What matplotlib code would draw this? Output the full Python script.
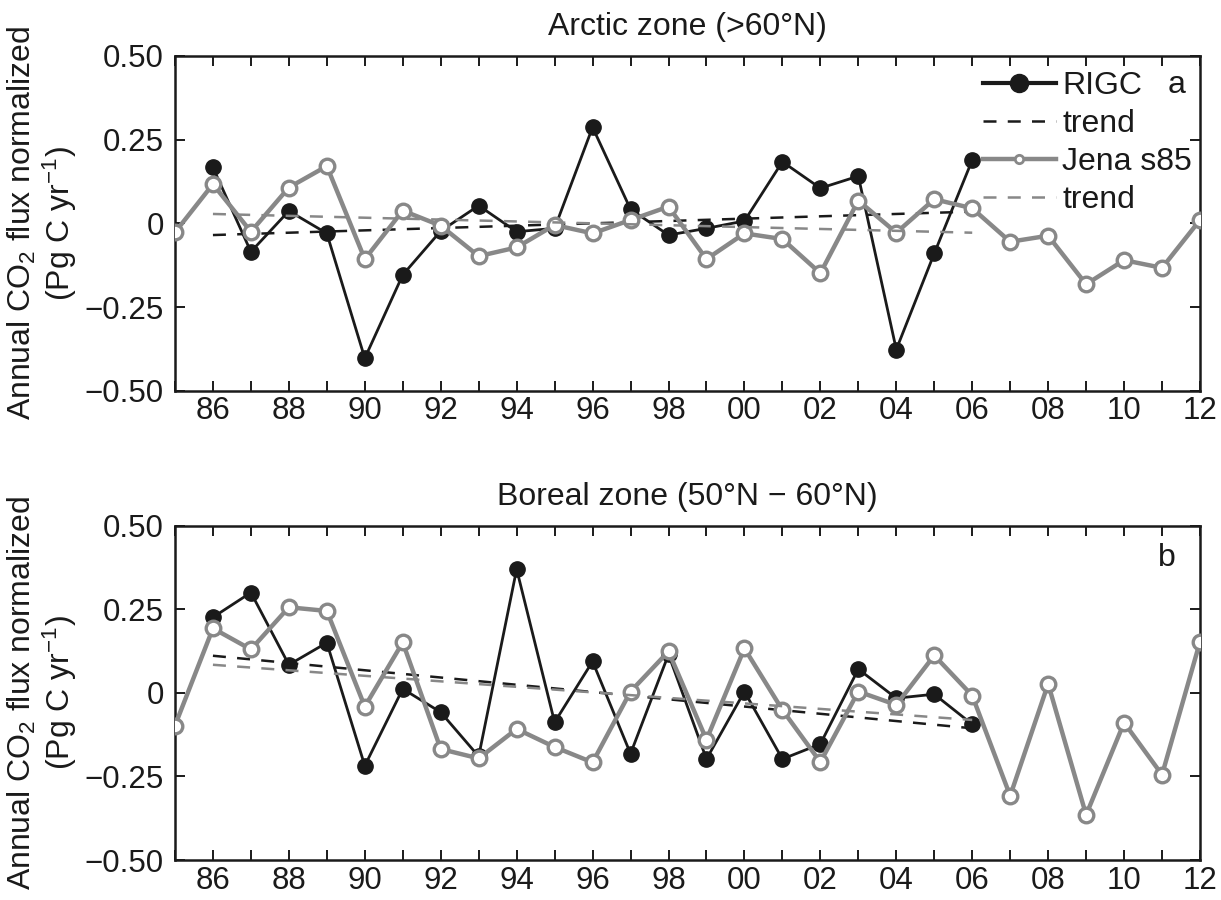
import numpy as np
import matplotlib
matplotlib.use("Agg")
import matplotlib.pyplot as plt

plt.rcParams['font.family'] = ['Liberation Sans', 'DejaVu Sans']
plt.rcParams['mathtext.default'] = 'regular'

# ---------------- data ----------------
years_rigc = list(range(1986, 2007))
years_jena = list(range(1985, 2013))

arctic_rigc = [0.167, -0.085, 0.037, -0.030, -0.403, -0.154, -0.023, 0.053, -0.025, -0.015,
               0.287, 0.042, -0.035, -0.015, 0.007, 0.184, 0.105, 0.141, -0.377, -0.090, 0.189]
arctic_jena = [-0.027, 0.117, -0.025, 0.107, 0.171, -0.107, 0.038, -0.007, -0.098, -0.072,
               -0.005, -0.030, 0.010, 0.050, -0.107, -0.030, -0.047, -0.149, 0.068, -0.028,
               0.072, 0.045, -0.055, -0.037, -0.182, -0.110, -0.133, 0.010]

boreal_rigc = [0.226, 0.300, 0.084, 0.150, -0.218, 0.012, -0.058, -0.190, 0.370, -0.088,
               0.094, -0.182, 0.115, -0.198, 0.004, -0.198, -0.153, 0.071, -0.016, -0.004, -0.094]
boreal_jena = [-0.098, 0.193, 0.130, 0.256, 0.245, -0.041, 0.151, -0.168, -0.196, -0.108,
               -0.162, -0.208, 0.004, 0.124, -0.140, 0.133, -0.051, -0.207, 0.004, -0.036,
               0.112, -0.008, -0.308, 0.027, -0.365, -0.089, -0.245, 0.153]

trend_years = [1986, 2006]
arctic_rigc_trend = [-0.035, 0.035]
arctic_jena_trend = [0.028, -0.028]
boreal_rigc_trend = [0.111, -0.106]
boreal_jena_trend = [0.084, -0.081]

titles = ["Arctic zone (>60°N)", "Boreal zone (50°N \u2212 60°N)"]
panel_letters = ["a", "b"]
ytick_vals = [-0.5, -0.25, 0, 0.25, 0.5]
ytick_labels = ["\u22120.50", "\u22120.25", "0", "0.25", "0.50"]
ylabel = "Annual CO$_2$ flux normalized\n(Pg C yr$^{-1}$)"

# ---------------- style ----------------
BLACK = "#1a1a1a"
GREY = "#888888"
FS = 23
TFS = 22.5

fig = plt.figure(figsize=(12.21, 9.0), dpi=100)
ax_top = fig.add_axes([0.1433, 0.5659, 0.8395, 0.3719])
ax_bot = fig.add_axes([0.1433, 0.0444, 0.8395, 0.3715])

panels = [
    (ax_top, arctic_rigc, arctic_jena, arctic_rigc_trend, arctic_jena_trend),
    (ax_bot, boreal_rigc, boreal_jena, boreal_rigc_trend, boreal_jena_trend),
]

for i, (ax, rigc, jena, rtr, jtr) in enumerate(panels):
    l1, = ax.plot(years_rigc, rigc, '-o', color=BLACK, lw=2.0, ms=11,
                  mfc=BLACK, mec=BLACK, label="RIGC", zorder=3)
    l2, = ax.plot(trend_years, rtr, '--', color=BLACK, lw=1.8, dashes=(5.2, 4.5),
                  label="trend", zorder=4)
    l3, = ax.plot(years_jena, jena, '-o', color=GREY, lw=3.2, ms=10.5,
                  mfc='white', mec=GREY, mew=2.4, label="Jena s85", zorder=5)
    l4, = ax.plot(trend_years, jtr, '--', color=GREY, lw=1.8, dashes=(5.2, 4.5),
                  label="trend", zorder=6)

    ax.set_xlim(1985, 2012)
    ax.set_ylim(-0.5, 0.5)
    years_all = list(range(1985, 2013))
    ax.set_xticks(years_all)
    ax.set_xticklabels([f"{y % 100:02d}" if y % 2 == 0 else "" for y in years_all])
    ax.set_yticks(ytick_vals)
    ax.set_yticklabels(ytick_labels)
    ax.tick_params(direction='in', length=7, width=1.4, labelsize=TFS,
                   top=True, right=True, colors=BLACK)
    ax.tick_params(axis='x', pad=4)
    ax.tick_params(axis='y', pad=8)
    for s in ax.spines.values():
        s.set_linewidth(1.8)
        s.set_color(BLACK)
    ax.set_ylabel(ylabel, fontsize=FS, linespacing=1.1, labelpad=4, color=BLACK)
    ax.set_title(titles[i], fontsize=FS, pad=15, color=BLACK)

    if i == 0:
        ax.text(0.977, 0.913, panel_letters[i], transform=ax.transAxes,
                fontsize=FS, ha='center', va='center', color=BLACK)
        leg = ax.legend(handles=[l1, l2, l3, l4], loc='upper left',
                        bbox_to_anchor=(0.788, 0.955), frameon=False,
                        fontsize=FS, handlelength=2.3, handletextpad=0.19,
                        labelspacing=0.25, borderpad=0, borderaxespad=0)
        hs = leg.legend_handles
        hs[0].set_markersize(13)
        hs[0].set_linewidth(3.0)
        hs[2].set_markersize(6)
        hs[2].set_markeredgewidth(2.0)
        for t in leg.get_texts():
            t.set_color(BLACK)
    else:
        ax.text(0.968, 0.904, panel_letters[i], transform=ax.transAxes,
                fontsize=FS, ha='center', va='center', color=BLACK)

fig.savefig("out.png", dpi=100)
